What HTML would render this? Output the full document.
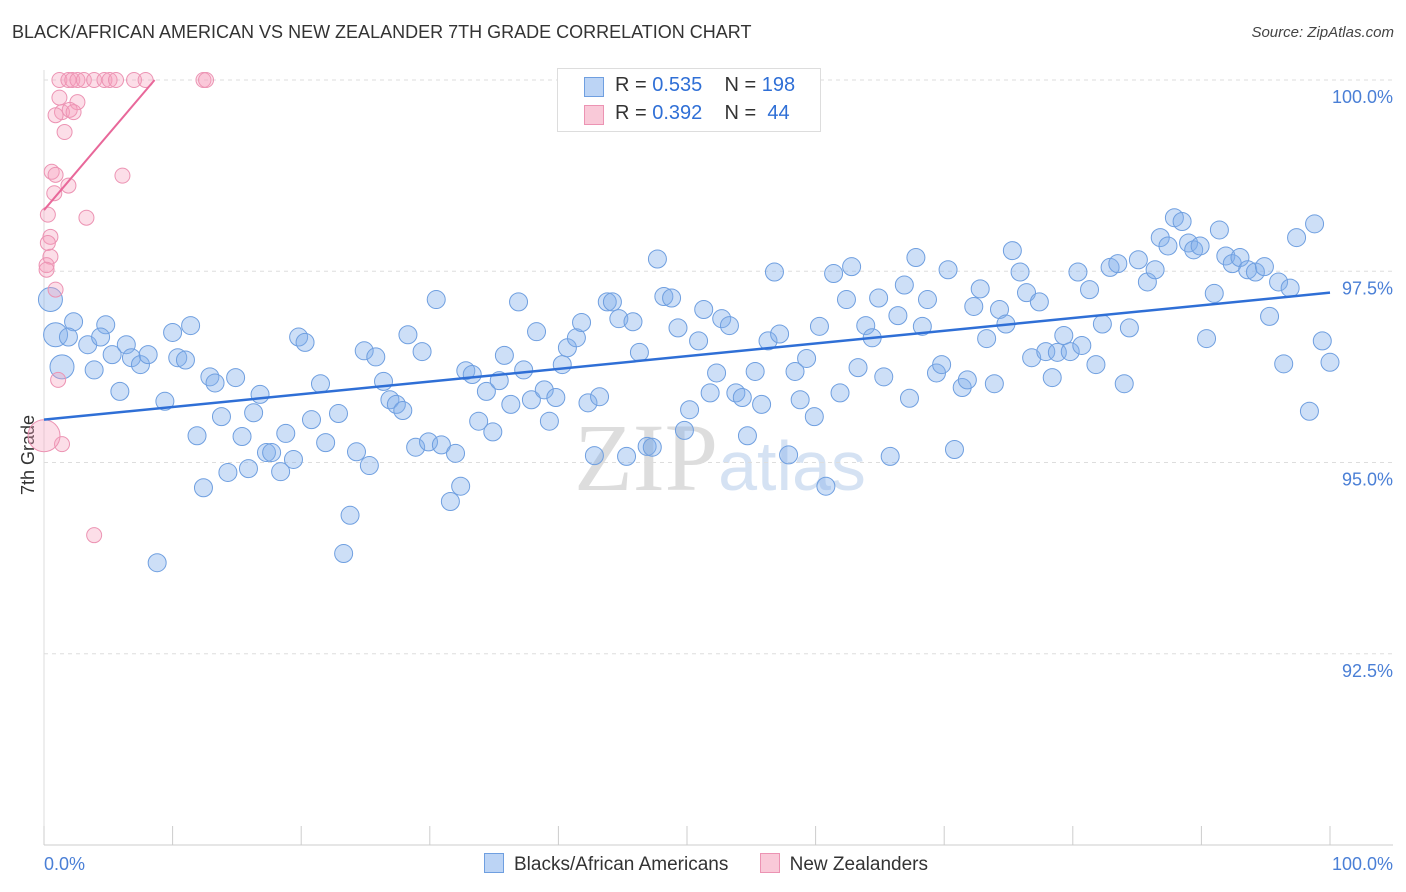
<!DOCTYPE html>
<html><head><meta charset="utf-8">
<style>
body{margin:0;background:#fff;font-family:"Liberation Sans",sans-serif;}
#wrap{position:relative;width:1406px;height:892px;overflow:hidden;}
.t{position:absolute;white-space:nowrap;}
</style></head>
<body>
<div id="wrap">
<div class="t" style="left:12px;top:22px;font-size:18px;color:#333;">BLACK/AFRICAN AMERICAN VS NEW ZEALANDER 7TH GRADE CORRELATION CHART</div>
<div class="t" style="right:12px;top:24px;font-size:15px;color:#444;font-style:italic;">Source: ZipAtlas.com</div>
<svg id="chart" width="1406" height="892" style="position:absolute;left:0;top:0;">
<text x="720" y="490" text-anchor="middle" font-size="96" font-family="Liberation Serif" fill="#ddd">ZIP<tspan fill="#d5e2f3" font-family="Liberation Sans" font-size="70">atlas</tspan></text>
</svg>
</div>
<script>
const blueX=[0.5,0.9,1.4,2.3,1.9,3.4,3.9,4.8,4.4,5.3,5.9,6.4,6.8,7.5,8.1,8.8,9.4,10.0,10.4,11.0,11.4,11.9,12.4,12.9,13.3,13.8,14.3,14.9,15.4,15.9,16.3,16.8,17.3,17.7,18.4,18.8,19.4,19.8,20.3,20.8,21.5,21.9,22.9,23.3,23.8,24.3,24.9,25.3,25.8,26.4,26.9,27.4,27.9,28.3,28.9,29.4,29.9,30.5,30.9,31.6,32.0,32.4,32.8,33.3,33.8,34.4,34.9,35.4,35.8,36.3,36.9,37.3,37.9,38.3,38.9,39.3,39.8,40.3,40.7,41.4,41.8,42.3,42.8,43.2,43.8,44.2,44.7,45.3,45.8,46.3,46.9,47.3,47.7,48.2,48.8,49.3,49.8,50.2,50.9,51.3,51.8,52.3,52.7,53.3,53.8,54.3,54.7,55.3,55.8,56.3,56.8,57.2,57.9,58.4,58.8,59.3,59.9,60.3,60.8,61.4,61.9,62.4,62.8,63.3,63.9,64.4,64.9,65.3,65.8,66.4,66.9,67.3,67.8,68.3,68.7,69.4,69.8,70.3,70.8,71.4,71.8,72.3,72.8,73.3,73.9,74.3,74.8,75.3,75.9,76.4,76.8,77.4,77.9,78.4,78.8,79.3,79.8,80.4,80.7,81.3,81.8,82.3,82.9,83.5,84.0,84.4,85.1,85.8,86.4,86.8,87.4,87.9,88.5,89.0,89.4,89.9,90.4,91.0,91.4,91.9,92.4,93.0,93.6,94.2,94.9,95.3,96.0,96.4,96.9,97.4,98.4,98.8,99.4,100.0];
const blueY=[97.13,96.67,96.25,96.84,96.64,96.54,96.21,96.80,96.64,96.41,95.93,96.54,96.37,96.28,96.41,93.69,95.80,96.70,96.37,96.34,96.79,95.35,94.67,96.12,96.04,95.60,94.87,96.11,95.34,94.92,95.65,95.89,95.13,95.13,94.88,95.38,95.04,96.64,96.57,95.56,96.03,95.26,95.64,93.81,94.31,95.14,96.46,94.96,96.38,96.06,95.82,95.76,95.68,96.67,95.20,96.45,95.27,97.13,95.23,94.49,95.12,94.69,96.20,96.15,95.54,95.93,95.40,96.07,96.40,95.76,97.10,96.21,95.82,96.71,95.95,95.54,95.85,96.28,96.50,96.63,96.83,95.78,95.09,95.86,97.10,97.10,96.88,95.08,96.84,96.44,95.21,95.20,97.66,97.17,97.15,96.76,95.42,95.69,96.59,97.00,95.91,96.17,96.88,96.79,95.91,95.85,95.35,96.19,95.76,96.59,97.49,96.68,95.10,96.19,95.82,96.36,95.60,96.78,94.69,97.47,95.91,97.13,97.56,96.24,96.79,96.63,97.15,96.12,95.08,96.92,97.32,95.84,97.68,96.78,97.13,96.17,96.28,97.52,95.17,95.98,96.08,97.04,97.27,96.62,96.03,97.00,96.81,97.77,97.49,97.22,96.37,97.10,96.45,96.11,96.44,96.66,96.45,97.49,96.53,97.26,96.28,96.81,97.55,97.60,96.03,96.76,97.65,97.36,97.52,97.94,97.83,98.20,98.15,97.87,97.78,97.83,96.62,97.21,98.04,97.70,97.60,97.68,97.52,97.49,97.56,96.91,97.36,96.29,97.28,97.94,95.67,98.12,96.59,96.31];
const pinkX=[1.2,1.9,2.2,2.6,3.1,3.9,4.7,5.1,5.6,7.0,7.9,12.4,12.6,1.2,2.6,1.4,0.9,2.0,2.3,1.6,0.6,0.9,1.9,0.8,6.1,3.3,0.3,0.5,0.3,0.5,0.2,0.2,0.9,1.1,1.4,3.9,0.0];
const pinkY=[100,100,100,100,100,100,100,100,100,100,100,100,100,99.77,99.71,99.58,99.54,99.61,99.58,99.32,98.80,98.76,98.62,98.52,98.75,98.20,98.24,97.95,97.87,97.69,97.58,97.52,97.26,96.08,95.24,94.05,95.35];
const blueTrend=[95.56,97.22];
const pinkTrendX=[0,8.6];
const pinkTrendY=[98.3,100];
const yTicks=[100,97.5,95,92.5];
const yTickLabels=["100.0%","97.5%","95.0%","92.5%"];
const xTicks=[0,10,20,30,40,50,60,70,80,90,100];

const L=44,R=1330,T=80,B=845;
const sx=v=>L+(R-L)*v/100;
const sy=v=>T+(100-v)*(B-T)/10;
const svg=document.getElementById('chart');
const NS='http://www.w3.org/2000/svg';
function mk(tag,at){const e=document.createElementNS(NS,tag);for(const k in at)e.setAttribute(k,at[k]);svg.appendChild(e);return e;}

yTicks.forEach((v,i)=>{
 const g=mk('line',{x1:L,x2:1393,y1:sy(v),y2:sy(v),stroke:'#ddd','stroke-dasharray':'4,4'});
 
 
 const t=mk('text',{x:1393,y:sy(v)+23,'text-anchor':'end','font-size':18,fill:'#4a7fd6'});
 t.textContent=yTickLabels[i];
 
 
});
const ax=mk('line',{x1:L,x2:1393,y1:B,y2:B,stroke:'#ccc'});


const ay=mk('line',{x1:L,x2:L,y1:70,y2:B,stroke:'#ddd'});


xTicks.forEach(v=>{
 const t=mk('line',{x1:sx(v),x2:sx(v),y1:826,y2:B,stroke:'#ccc'});
 
 
});
const xl0=mk('text',{x:44,y:870,'font-size':18,fill:'#4a7fd6'});xl0.textContent='0.0%';


const xl1=mk('text',{x:1393,y:870,'font-size':18,fill:'#4a7fd6','text-anchor':'end'});xl1.textContent='100.0%';


const yt=mk('text',{x:34,y:455,'font-size':18,fill:'#333','text-anchor':'middle',transform:'rotate(-90 34 455)'});yt.textContent='7th Grade';



blueX.forEach((x,i)=>{
 const c=mk('circle',{cx:sx(x),cy:sy(blueY[i]),r:i<3?12:9,fill:'rgba(130,175,235,0.4)',stroke:'#6f9fe0','stroke-width':1});
 
 
});
pinkX.forEach((x,i)=>{
 const c=mk('circle',{cx:sx(x),cy:sy(pinkY[i]),r:i==pinkX.length-1?16:7.5,fill:'rgba(245,160,190,0.35)',stroke:'#ec93b3','stroke-width':1});
 
 
});
const bl=mk('line',{x1:sx(0),y1:sy(blueTrend[0]),x2:sx(100),y2:sy(blueTrend[1]),stroke:'#2f6fd6','stroke-width':2.5});


const pl=mk('line',{x1:sx(pinkTrendX[0]),y1:sy(pinkTrendY[0]),x2:sx(pinkTrendX[1]),y2:sy(pinkTrendY[1]),stroke:'#e8689a','stroke-width':2});


</script>
<div class="t" style="left:557px;top:68px;width:262px;height:62px;border:1px solid #ddd;background:#fff;font-size:20px;color:#333;">
 <div style="position:absolute;left:26px;top:8px;width:18px;height:18px;background:#bcd4f5;border:1px solid #6f9fe0;"></div>
 <div style="position:absolute;left:57px;top:5px;">R = <span style="color:#2f6fd6">0.535</span>&nbsp;&nbsp;&nbsp; N = <span style="color:#2f6fd6">198</span></div>
 <div style="position:absolute;left:26px;top:36px;width:18px;height:18px;background:#f9c9d8;border:1px solid #ec93b3;"></div>
 <div style="position:absolute;left:57px;top:33px;">R = <span style="color:#2f6fd6">0.392</span>&nbsp;&nbsp;&nbsp; N = &nbsp;<span style="color:#2f6fd6">44</span></div>
</div>
<div class="t" style="left:484px;top:853px;font-size:19px;color:#333;">
 <span><span style="display:inline-block;width:18px;height:18px;background:#bcd4f5;border:1px solid #6f9fe0;vertical-align:-3px;margin-right:10px;"></span>Blacks/African Americans</span>
 <span style="margin-left:26px;"><span style="display:inline-block;width:18px;height:18px;background:#f9c9d8;border:1px solid #ec93b3;vertical-align:-3px;margin-right:10px;"></span>New Zealanders</span>
</div>
</body></html>
